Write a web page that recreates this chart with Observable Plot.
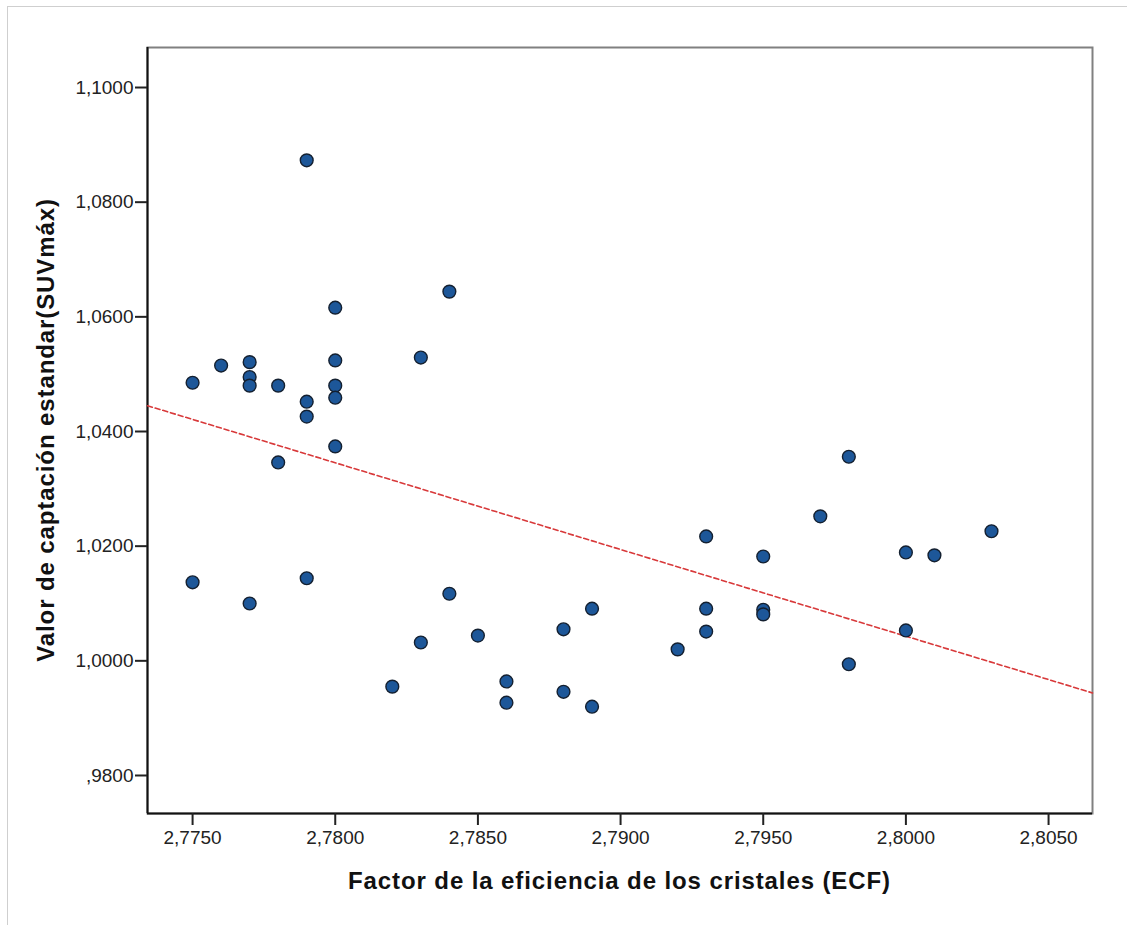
<!DOCTYPE html>
<html>
<head>
<meta charset="utf-8">
<script src="https://cdn.jsdelivr.net/npm/d3@7"></script>
<script src="https://cdn.jsdelivr.net/npm/@observablehq/plot@0.6"></script>
<style>
  html, body { margin: 0; padding: 0; background: #fff; }
  #wrap { position: relative; width: 1127px; height: 925px; overflow: hidden; }
  #border { position: absolute; left: 7px; top: 6px; width: 1200px; height: 1000px;
            border-top: 1px solid #cfcfcf; border-left: 1px solid #cfcfcf; }
  #chart { position: absolute; left: 0; top: 0; }
</style>
</head>
<body>
<div id="wrap"><div id="border"></div><div id="chart"></div></div>
<script>
// ECF values (x) and SUVmax values (y), one entry per point
const ecf = [
  2.775, 2.775, 2.776, 2.777, 2.777, 2.777, 2.777, 2.778, 2.778,
  2.779, 2.779, 2.779, 2.779, 2.780, 2.780, 2.780, 2.780, 2.780,
  2.782, 2.783, 2.783, 2.784, 2.784, 2.785, 2.786, 2.786,
  2.788, 2.788, 2.789, 2.789, 2.792, 2.793, 2.793, 2.793,
  2.795, 2.795, 2.795, 2.797, 2.798, 2.798, 2.800, 2.800, 2.801, 2.803
];
const suv = [
  1.0485, 1.0137, 1.0515, 1.0521, 1.0495, 1.0480, 1.0100, 1.0480, 1.0346,
  1.0873, 1.0452, 1.0426, 1.0144, 1.0616, 1.0524, 1.0480, 1.0459, 1.0374,
  0.9955, 1.0529, 1.0032, 1.0644, 1.0117, 1.0044, 0.9964, 0.9927,
  1.0055, 0.9946, 1.0091, 0.9920, 1.0020, 1.0217, 1.0091, 1.0051,
  1.0182, 1.0089, 1.0081, 1.0252, 1.0356, 0.9994, 1.0189, 1.0053, 1.0184, 1.0226
];
// fit line (as drawn in the reference) at the two ends of the x range
const fitY = [1.0445, 0.9944];
const xTicks = [2.775, 2.780, 2.785, 2.790, 2.795, 2.800, 2.805];
const yTicks = [0.98, 1.00, 1.02, 1.04, 1.06, 1.08, 1.10];
const xDomain = [2.77342, 2.80654];
const yDomain = [0.97337, 1.10698];
const xTitle = "Factor de la eficiencia de los cristales (ECF)";
const yTitle = "Valor de captación estandar(SUVmáx)";

const data = ecf.map((x, i) => ({x, y: suv[i]}));
const fit = xDomain.map((x, i) => ({x, y: fitY[i]}));

const fmt = v => d3.format(".4f")(v).replace(".", ",").replace(/^0,/, ",");

const plot = Plot.plot({
  width: 1127,
  height: 925,
  marginLeft: 147,
  marginTop: 47,
  marginRight: 35,
  marginBottom: 112,
  style: {fontFamily: "Arial, 'Liberation Sans', sans-serif", fontSize: "19px", color: "#222", background: "transparent"},
  x: {domain: xDomain},
  y: {domain: yDomain},
  marks: [
    Plot.frame({stroke: "#808080", strokeWidth: 2}),
    Plot.ruleX([xDomain[0]], {stroke: "#111", strokeWidth: 2}),
    Plot.ruleY([yDomain[0]], {stroke: "#111", strokeWidth: 2}),
    Plot.axisX({ticks: xTicks, tickFormat: fmt, tickSize: 12, tickPadding: 5, stroke: "#222", strokeWidth: 2,
                label: null, fontSize: 19}),
    Plot.axisY({ticks: yTicks, tickFormat: fmt, tickSize: 12, tickPadding: 2, stroke: "#222", strokeWidth: 2,
                label: null, fontSize: 19}),
    Plot.line(fit, {x: "x", y: "y", stroke: "#d8393a", strokeWidth: 1.6, strokeDasharray: "5,3"}),
    Plot.dot(data, {x: "x", y: "y", r: 6.4, fill: "#1d5799", stroke: "#142030", strokeWidth: 1.4})
  ]
});

const svg = d3.select(plot);
svg.append("text")
  .attr("x", (147 + 1092) / 2).attr("y", 889)
  .attr("text-anchor", "middle")
  .attr("font-family", "Arial, 'Liberation Sans', sans-serif")
  .attr("font-weight", "bold").attr("font-size", 24).attr("letter-spacing", "0.9px").attr("fill", "#111")
  .text(xTitle);
svg.append("text")
  .attr("transform", `translate(54, ${(47 + 813) / 2}) rotate(-90)`)
  .attr("text-anchor", "middle")
  .attr("font-family", "Arial, 'Liberation Sans', sans-serif")
  .attr("font-weight", "bold").attr("font-size", 24).attr("letter-spacing", "0.9px").attr("fill", "#111")
  .text(yTitle);

document.getElementById("chart").appendChild(plot);
</script>
</body>
</html>
